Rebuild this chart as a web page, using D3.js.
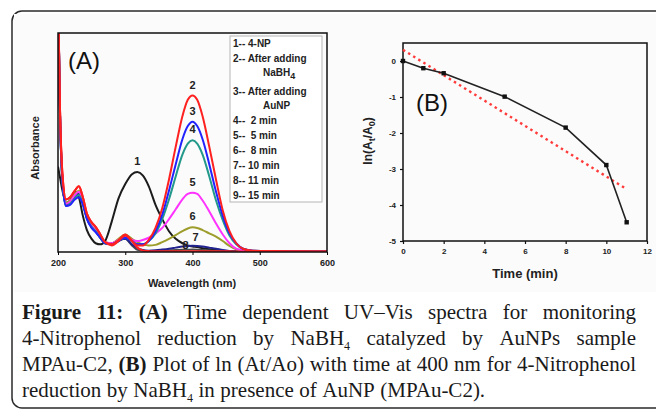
<!DOCTYPE html>
<html>
<head>
<meta charset="utf-8">
<script src="https://cdn.jsdelivr.net/npm/d3@7"></script>
<style>
body{margin:0;background:#fff}
svg text{font-family:Arial,"Liberation Sans",sans-serif}
</style>
</head>
<body>
<svg id="fig" width="656" height="410"></svg>
<script>
var wavelengths = [200,203,207,212,218,225,231,237,243,250,256,263,270,280,290,300,310,318,326,335,345,355,365,375,385,393,400,407,415,425,435,445,455,465,475,490,520,560,600];

var s1 = [0.78,0.68,0.55,0.45,0.47,0.55,0.5,0.33,0.2,0.12,0.08,0.07,0.1,0.28,0.49,0.62,0.71,0.73,0.7,0.6,0.43,0.3,0.19,0.12,0.08,0.06,0.05,0.045,0.035,0.025,0.018,0.012,0.008,0.006,0.005,0.004,0.003,0.003,0.003];
var s2 = [2.4,1.3,0.68,0.48,0.5,0.56,0.6,0.5,0.35,0.27,0.23,0.16,0.09,0.06,0.1,0.15,0.1,0.06,0.06,0.11,0.22,0.4,0.66,0.96,1.24,1.39,1.43,1.39,1.24,0.96,0.66,0.38,0.19,0.08,0.03,0.012,0.008,0.006,0.005];
var s3 = [2.4,1.25,0.62,0.42,0.43,0.48,0.5,0.43,0.3,0.22,0.18,0.13,0.08,0.07,0.1,0.13,0.1,0.07,0.07,0.1,0.19,0.34,0.56,0.8,1.03,1.15,1.19,1.15,1.03,0.8,0.55,0.33,0.17,0.08,0.03,0.012,0.008,0.006,0.005];
var s4 = [2.4,1.25,0.62,0.42,0.44,0.49,0.52,0.44,0.31,0.23,0.19,0.13,0.08,0.07,0.1,0.13,0.1,0.07,0.07,0.1,0.17,0.3,0.48,0.69,0.89,0.99,1.02,0.99,0.89,0.69,0.47,0.29,0.15,0.07,0.03,0.012,0.008,0.006,0.005];
var s5 = [2.4,1.28,0.64,0.44,0.46,0.52,0.55,0.47,0.32,0.24,0.2,0.14,0.09,0.08,0.11,0.14,0.11,0.1,0.11,0.13,0.17,0.22,0.3,0.39,0.48,0.53,0.54,0.53,0.47,0.37,0.26,0.16,0.08,0.03,0.015,0.008,0.006,0.005,0.005];
var s6 = [2.4,1.28,0.64,0.45,0.47,0.53,0.56,0.47,0.32,0.24,0.2,0.14,0.09,0.08,0.12,0.16,0.12,0.09,0.07,0.06,0.065,0.09,0.12,0.155,0.19,0.215,0.225,0.22,0.2,0.17,0.14,0.1,0.055,0.025,0.012,0.006,0.005,0.004,0.004];
var s7 = [2.4,1.25,0.62,0.43,0.45,0.5,0.53,0.45,0.31,0.23,0.19,0.13,0.08,0.08,0.11,0.12,0.07,0.035,0.018,0.012,0.015,0.022,0.03,0.04,0.05,0.055,0.057,0.055,0.05,0.04,0.03,0.018,0.01,0.006,0.004,0.003,0.003,0.003,0.003];
var s8 = [2.4,1.25,0.62,0.43,0.45,0.5,0.53,0.45,0.31,0.23,0.19,0.13,0.08,0.07,0.1,0.12,0.06,0.02,0.012,0.01,0.01,0.012,0.015,0.018,0.02,0.021,0.022,0.021,0.018,0.014,0.01,0.007,0.005,0.004,0.003,0.003,0.003,0.003,0.003];
var s9 = [2.4,1.3,0.68,0.48,0.5,0.56,0.6,0.5,0.35,0.27,0.23,0.16,0.09,0.07,0.11,0.16,0.1,0.04,0.015,0.008,0.006,0.006,0.006,0.006,0.006,0.006,0.006,0.006,0.006,0.006,0.006,0.006,0.006,0.005,0.005,0.005,0.005,0.005,0.005];

var legendLabels = ["1-- 4-NP", "2-- After adding|NaBH_4", "3-- After adding|AuNP", "4--  2 min", "5--  5 min", "6--  8 min", "7-- 10 min", "8-- 11 min", "9-- 15 min"];
var xTicksA = [200,300,400,500,600];

// kinetics (B)
var times = [0,1,2,5,8,10,11];
var lnRatio = [0,-0.2,-0.34,-0.99,-1.85,-2.89,-4.48];
var fitTimes = [0,11];
var fitValues = [0.31,-3.56];
var xTicksB = [0,2,4,6,8,10,12];
var yTicksB = [0,-1,-2,-3,-4,-5];

var captionLines = [
  ["*Figure","*11:","*(A)","Time","dependent","UV–Vis","spectra","for","monitoring"],
  ["4-Nitrophenol","reduction","by","NaBH_4","catalyzed","by","AuNPs","sample"],
  ["MPAu-C2,","*(B)","Plot","of","ln","(At/Ao)","with","time","at","400","nm","for","4-Nitrophenol"],
  ["reduction","by","NaBH_4","in","presence","of","AuNP","(MPAu-C2)."]
];

var svg = d3.select("#fig");

// outer rounded frame + figure background
svg.append("rect").attr("x",12).attr("y",11).attr("width",720).attr("height",397)
   .attr("rx",10).attr("fill","#fff").attr("stroke","#2a2a2a").attr("stroke-width",1.5);
svg.append("rect").attr("x",14).attr("y",14).attr("width",642).attr("height",278).attr("fill","#fbfbfb");

// ---------- panel A ----------
var xA = d3.scaleLinear().domain([200,600]).range([58,327]);
var yA = d3.scaleLinear().domain([0,2]).range([252,33]);

svg.append("clipPath").attr("id","clipA").append("rect")
   .attr("x",xA(200)).attr("y",yA(2)).attr("width",xA(600)-xA(200)).attr("height",yA(0)-yA(2));

var series = [
  {id:1, vals:s1, color:"#1c1c1c"},
  {id:8, vals:s8, color:"#4a4a4a"},
  {id:7, vals:s7, color:"#23238f"},
  {id:6, vals:s6, color:"#9d9d2c"},
  {id:5, vals:s5, color:"#ff33ff"},
  {id:4, vals:s4, color:"#22998a"},
  {id:3, vals:s3, color:"#2222ff"},
  {id:2, vals:s2, color:"#ff2020"},
  {id:9, vals:s9, color:"#ff2020"}
];

var line = d3.line()
  .x(function(d){ return xA(d[0]); })
  .y(function(d){ return yA(d[1]); })
  .curve(d3.curveMonotoneX);

var gA = svg.append("g").attr("clip-path","url(#clipA)");
series.forEach(function(s){
  gA.append("path")
    .datum(wavelengths.map(function(w,i){ return [w, s.vals[i]]; }))
    .attr("d", line)
    .attr("fill","none")
    .attr("stroke", s.color)
    .attr("stroke-width", 2);
});

// frame and axis
svg.append("rect").attr("x",xA(200)).attr("y",yA(2)).attr("width",xA(600)-xA(200)).attr("height",yA(0)-yA(2))
   .attr("fill","none").attr("stroke","#111").attr("stroke-width",1.5);

var axA = svg.append("g").attr("transform","translate(0,"+yA(0)+")")
  .call(d3.axisBottom(xA).tickValues(xTicksA).tickSize(3).tickPadding(5).tickFormat(d3.format("d")));
axA.select(".domain").remove();
axA.selectAll("text").style("font-size","9px").style("font-weight","bold").attr("fill","#222");

svg.append("text").attr("x",192).attr("y",287).attr("text-anchor","middle")
   .style("font-size","11px").style("font-weight","bold").attr("fill","#222").text("Wavelength (nm)");
svg.append("text").attr("transform","translate(39,148) rotate(-90)").attr("text-anchor","middle")
   .style("font-size","11px").style("font-weight","bold").attr("fill","#222").text("Absorbance");

svg.append("text").attr("x",68).attr("y",69).style("font-size","24px").attr("fill","#111").text("(A)");

// peak labels, placed from each curve's maximum in the visible band
var labelShift = {7:[3,-6], 8:[-7,-2]};
series.forEach(function(s){
  if (s.id === 9) return;
  var best = -1, bi = 0;
  wavelengths.forEach(function(w,i){ if (w >= 315 && w <= 420 && s.vals[i] > best){ best = s.vals[i]; bi = i; } });
  var sh = labelShift[s.id] || [0,-8];
  svg.append("text").attr("x", xA(wavelengths[bi]) + sh[0]).attr("y", yA(best) + sh[1]).attr("dy","0.1em")
     .attr("text-anchor","middle").style("font-size","11px").style("font-weight","bold").attr("fill","#222").text(s.id);
});

// legend
svg.append("rect").attr("x",230).attr("y",36).attr("width",92).attr("height",166)
   .attr("fill","#fff").attr("stroke","#b5b5b5").attr("stroke-width",1);
var lg = svg.append("g").style("font-size","10px").style("font-weight","bold").attr("fill","#222");
var ly = 43.5;
legendLabels.forEach(function(lab){
  var parts = lab.split("|");
  lg.append("text").attr("x",233).attr("y",ly).attr("dy","0.35em").attr("xml:space","preserve").text(parts[0]);
  var sub = false;
  if (parts[1]) {
    ly += 14;
    var t = lg.append("text").attr("x",263).attr("y",ly).attr("dy","0.35em");
    var p = parts[1].split("_");
    t.append("tspan").text(p[0]);
    if (p[1]) { sub = true; t.append("tspan").attr("dy",3).style("font-size","9px").text(p[1]); }
  }
  ly += sub ? 19 : 15;
});

// ---------- panel B ----------
var xB = d3.scaleLinear().domain([0,12]).range([403,647]);
var yB = d3.scaleLinear().domain([-5,0.5]).range([241,43]);

svg.append("rect").attr("x",xB(0)).attr("y",yB(0.5)).attr("width",xB(12)-xB(0)).attr("height",yB(-5)-yB(0.5))
   .attr("fill","none").attr("stroke","#111").attr("stroke-width",1.5);

var axBx = svg.append("g").attr("transform","translate(0,"+yB(-5)+")")
  .call(d3.axisBottom(xB).tickValues(xTicksB).tickSize(3).tickPadding(4));
var axBy = svg.append("g").attr("transform","translate("+xB(0)+",0)")
  .call(d3.axisLeft(yB).tickValues(yTicksB).tickSize(3).tickPadding(4).tickFormat(function(d){ return d === 0 ? "0" : "-" + Math.abs(d); }));
[axBx, axBy].forEach(function(a){
  a.select(".domain").remove();
  a.selectAll("text").style("font-size","8px").style("font-weight","bold").attr("fill","#222");
  a.selectAll("line").attr("stroke","#111").attr("stroke-width",1.2);
});

svg.append("line")
   .attr("x1",xB(fitTimes[0])).attr("y1",yB(fitValues[0]))
   .attr("x2",xB(fitTimes[1])).attr("y2",yB(fitValues[1]))
   .attr("stroke","#ff3b3b").attr("stroke-width",2.4).attr("stroke-dasharray","2.5,3.5");

var pts = times.map(function(t,i){ return [t, lnRatio[i]]; });
svg.append("path").datum(pts)
   .attr("d", d3.line().x(function(d){ return xB(d[0]); }).y(function(d){ return yB(d[1]); }))
   .attr("fill","none").attr("stroke","#222").attr("stroke-width",1.6);
svg.selectAll("rect.pt").data(pts).enter().append("rect").attr("class","pt")
   .attr("x",function(d){ return xB(d[0]) - 2.2; }).attr("y",function(d){ return yB(d[1]) - 2.2; })
   .attr("width",4.4).attr("height",4.4).attr("fill","#111");

svg.append("text").attr("x",416).attr("y",111).style("font-size","24px").attr("fill","#111").text("(B)");

svg.append("text").attr("x",525).attr("y",278).attr("text-anchor","middle")
   .style("font-size","13px").style("font-weight","bold").attr("fill","#222").text("Time (min)");
var yl = svg.append("text").attr("transform","translate(372,141) rotate(-90)").attr("text-anchor","middle")
   .style("font-size","12px").style("font-weight","bold").attr("fill","#222");
yl.append("tspan").text("ln(A");
yl.append("tspan").attr("dy",3).style("font-size","9px").text("t");
yl.append("tspan").attr("dy",-3).text("/A");
yl.append("tspan").attr("dy",3).style("font-size","9px").text("0");
yl.append("tspan").attr("dy",-3).text(")");

// ---------- caption, justified ----------
var cap = svg.append("g").attr("fill","#1a1a1a");
captionLines.forEach(function(words, li){
  var y = 319 + li * 26;
  var nodes = words.map(function(w){
    var bold = w.charAt(0) === "*";
    if (bold) w = w.slice(1);
    var parts = w.split("_");
    var t = cap.append("text").attr("y", y)
      .style("font-family","'Liberation Serif','Times New Roman',serif")
      .style("font-size","21px").style("font-weight", bold ? "bold" : "normal");
    t.append("tspan").text(parts[0]);
    if (parts[1]) t.append("tspan").attr("dy",5).style("font-size","12px").text(parts[1]);
    return t;
  });
  var widths = nodes.map(function(n){ return n.node().getComputedTextLength(); });
  var last = li === captionLines.length - 1;
  var gap = last ? 5.5 : (614 - d3.sum(widths)) / (words.length - 1);
  var x = 22;
  nodes.forEach(function(n,i){ n.attr("x", x); x += widths[i] + gap; });
});
</script>
</body>
</html>
